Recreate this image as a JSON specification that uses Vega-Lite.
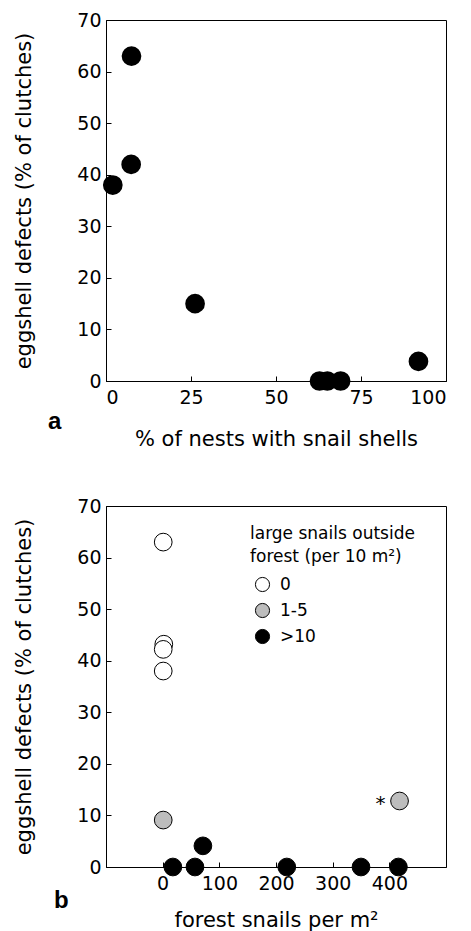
{
  "$schema": "https://vega.github.io/schema/vega-lite/v6.json",
  "background": "white",
  "padding": {"left": 13, "top": 10, "right": 10, "bottom": 2},
  "spacing": 46,
  "config": {
    "font": "DejaVu Sans",
    "view": {"stroke": "black", "strokeWidth": 1},
    "axis": {
      "grid": false,
      "domainColor": "black",
      "tickColor": "black",
      "tickSize": -5,
      "labelColor": "black",
      "titleColor": "black",
      "labelFont": "DejaVu Sans",
      "titleFont": "DejaVu Sans",
      "labelFontSize": 19,
      "titleFontSize": 21,
      "titleFontWeight": "normal",
      "labelPadding": 10
    },
    "title": {"orient": "bottom", "anchor": "start", "frame": "group", "fontSize": 24, "fontWeight": "bold", "font": "Liberation Sans", "color": "black"}
  },
  "datasets": {
    "a": [
      {"nests": 2, "defects": 38},
      {"nests": 7.4, "defects": 42},
      {"nests": 7.5, "defects": 63},
      {"nests": 26.2, "defects": 15},
      {"nests": 62.8, "defects": 0},
      {"nests": 65.1, "defects": 0},
      {"nests": 69, "defects": 0},
      {"nests": 91.9, "defects": 3.8}
    ],
    "b": [
      {"snails": 1, "defects": 63, "group": "0", "note": ""},
      {"snails": 2, "defects": 43.2, "group": "0", "note": ""},
      {"snails": 1, "defects": 42.2, "group": "0", "note": ""},
      {"snails": 1, "defects": 38, "group": "0", "note": ""},
      {"snails": 1, "defects": 9.1, "group": "1-5", "note": ""},
      {"snails": 418, "defects": 12.8, "group": "1-5", "note": "*"},
      {"snails": 18, "defects": 0, "group": ">10", "note": ""},
      {"snails": 57, "defects": 0, "group": ">10", "note": ""},
      {"snails": 71, "defects": 4.1, "group": ">10", "note": ""},
      {"snails": 219, "defects": 0, "group": ">10", "note": ""},
      {"snails": 350, "defects": 0, "group": ">10", "note": ""},
      {"snails": 416, "defects": 0, "group": ">10", "note": ""}
    ]
  },
  "vconcat": [
    {
      "width": 340,
      "height": 361,
      "title": {"text": "a", "dx": -58, "dy": -43},
      "data": {"name": "a"},
      "mark": {"type": "point", "shape": "circle", "filled": true, "size": 314, "fill": "black", "stroke": "black", "opacity": 1},
      "encoding": {
        "x": {"field": "nests", "type": "quantitative", "scale": {"domain": [0, 100], "nice": false, "zero": false}, "axis": {"values": [0, 25, 50, 75, 100], "title": "% of nests with snail shells", "titlePadding": 21, "labelPadding": 12}},
        "y": {"field": "defects", "type": "quantitative", "scale": {"domain": [0, 70], "nice": false}, "axis": {"values": [0, 10, 20, 30, 40, 50, 60, 70], "title": "eggshell defects (% of clutches)", "titlePadding": 42}}
      }
    },
    {
      "width": 340,
      "height": 361,
      "title": {"text": "b", "dx": -52, "dy": -45},
      "data": {"name": "b"},
      "layer": [
        {
          "mark": {"type": "point", "shape": "circle", "filled": true, "size": 314, "stroke": "black", "strokeWidth": 1, "opacity": 1},
          "encoding": {
            "x": {"field": "snails", "type": "quantitative", "scale": {"domain": [-100, 500], "nice": false, "zero": false}, "axis": {"values": [0, 100, 200, 300, 400], "title": "forest snails per m²", "titlePadding": 16, "labelPadding": 12}},
            "y": {"field": "defects", "type": "quantitative", "scale": {"domain": [0, 70], "nice": false}, "axis": {"values": [0, 10, 20, 30, 40, 50, 60, 70], "title": "eggshell defects (% of clutches)", "titlePadding": 42}},
            "fill": {"field": "group", "type": "nominal", "scale": {"domain": ["0", "1-5", ">10"], "range": ["white", "#bdbdbd", "black"]},
              "legend": {"orient": "none", "legendX": 144, "legendY": 506, "title": ["large snails outside", "forest (per 10 m²)"], "titleFont": "DejaVu Sans", "titleFontSize": 17, "titleFontWeight": "normal", "titleColor": "black", "titleLineHeight": 23, "titlePadding": 10, "labelFont": "DejaVu Sans", "labelFontSize": 17, "labelColor": "black", "symbolType": "circle", "symbolSize": 200, "symbolStrokeColor": "black", "symbolStrokeWidth": 1, "rowPadding": 7, "labelOffset": 9, "symbolOffset": 4}}
          }
        },
        {
          "mark": {"type": "text", "dx": -19, "dy": 3, "fontSize": 20, "color": "black"},
          "encoding": {
            "x": {"field": "snails", "type": "quantitative"},
            "y": {"field": "defects", "type": "quantitative"},
            "text": {"field": "note"}
          }
        }
      ]
    }
  ]
}
